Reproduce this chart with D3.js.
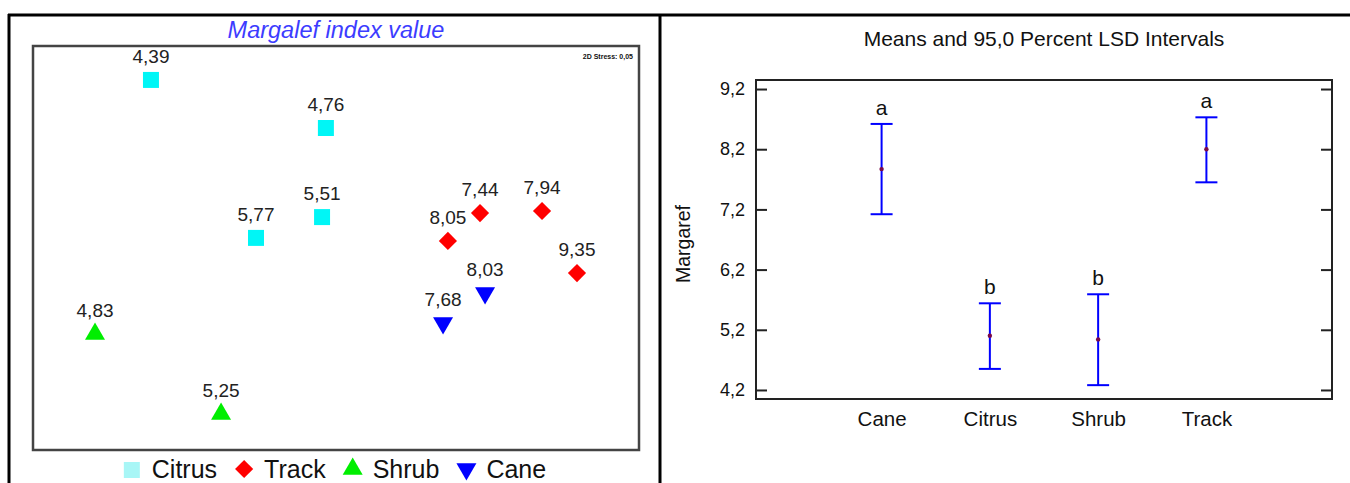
<!DOCTYPE html>
<html>
<head>
<meta charset="utf-8">
<script src="https://cdn.jsdelivr.net/npm/d3@7"></script>
<style>
  html, body { margin: 0; padding: 0; background: #fff; }
  svg { display: block; font-family: "Liberation Sans", Arial, sans-serif; }
</style>
</head>
<body>
<svg id="fig" width="1350" height="483"></svg>
<script>
// ---- NMDS ordination of sites (left panel) ----
const siteGroups = ['Citrus', 'Citrus', 'Citrus', 'Citrus', 'Track', 'Track', 'Track', 'Track', 'Cane', 'Cane', 'Shrub', 'Shrub'];
const margalefValues = [4.39, 4.76, 5.51, 5.77, 7.44, 7.94, 8.05, 9.35, 8.03, 7.68, 4.83, 5.25];
const nmdsAxis1 = [-0.916, -0.050, -0.069, -0.396, 0.713, 1.020, 0.554, 1.193, 0.738, 0.530, -1.193, -0.569];
const nmdsAxis2 = [0.832, 0.594, 0.153, 0.050, 0.173, 0.183, 0.035, -0.124, -0.223, -0.371, -0.426, -0.822];
const legendGroups = ['Citrus', 'Track', 'Shrub', 'Cane'];
const stressText = '2D Stress: 0,05';

// ---- Means and LSD intervals (right panel) ----
const lsdCategories = ['Cane', 'Citrus', 'Shrub', 'Track'];
const lsdMeans = [7.87, 5.10, 5.04, 8.20];
const lsdLower = [7.12, 4.55, 4.28, 7.65];
const lsdUpper = [8.62, 5.64, 5.79, 8.73];
const lsdLetters = ['a', 'b', 'b', 'a'];
const yTickValues = [4.2, 5.2, 6.2, 7.2, 8.2, 9.2];

const svg = d3.select('#fig');
const comma = v => d3.format('.1f')(v).replace('.', ',');
const comma2 = v => d3.format('.2f')(v).replace('.', ',');

// outer table rules
svg.append('rect').attr('width', 1350).attr('height', 483).attr('fill', '#fff');
const rules = svg.append('g').attr('stroke', '#000').attr('stroke-width', 3);
rules.append('line').attr('x1', 8).attr('x2', 1350).attr('y1', 15).attr('y2', 15);
rules.append('line').attr('x1', 9).attr('x2', 9).attr('y1', 14).attr('y2', 483);
rules.append('line').attr('x1', 660).attr('x2', 660).attr('y1', 14).attr('y2', 483);

// ================= left panel =================
const groupStyle = {
  Citrus: { type: d3.symbolSquare, size: 256, rot: 0, fill: '#00f6f6', legendFill: '#a8f6f6' },
  Track:  { type: d3.symbolSquare, size: 165, rot: 45, fill: '#ff0000', legendFill: '#ff0000' },
  Shrub:  { type: d3.symbolTriangle, size: 173, rot: 0, fill: '#00ee00', legendFill: '#00ee00' },
  Cane:   { type: d3.symbolTriangle, size: 173, rot: 180, fill: '#0000ff', legendFill: '#0000ff' }
};

const xN = d3.scaleLinear().domain([-1.5, 1.5]).range([33, 639]);
const yN = d3.scaleLinear().domain([-1, 1]).range([450, 46]);

svg.append('text')
  .attr('x', 336).attr('y', 38)
  .attr('text-anchor', 'middle')
  .attr('font-size', 23.5).attr('font-style', 'italic')
  .attr('fill', '#3c3cff')
  .text('Margalef index value');

svg.append('rect')
  .attr('x', 33).attr('y', 46).attr('width', 606).attr('height', 404)
  .attr('fill', 'none').attr('stroke', '#444').attr('stroke-width', 2.5);

svg.append('text')
  .attr('x', 633).attr('y', 59)
  .attr('text-anchor', 'end')
  .attr('font-size', 7).attr('font-weight', 'bold')
  .attr('fill', '#111')
  .text(stressText);

const sites = margalefValues.map((v, i) => ({ group: siteGroups[i], value: v, a1: nmdsAxis1[i], a2: nmdsAxis2[i] }));

const siteG = svg.append('g').selectAll('g').data(sites).join('g')
  .attr('transform', d => `translate(${xN(d.a1)},${yN(d.a2)})`);
siteG.append('path')
  .attr('d', d => d3.symbol(groupStyle[d.group].type, groupStyle[d.group].size)())
  .attr('transform', d => `rotate(${groupStyle[d.group].rot})`)
  .attr('fill', d => groupStyle[d.group].fill);
siteG.append('text')
  .attr('y', -17)
  .attr('text-anchor', 'middle')
  .attr('font-size', 19)
  .attr('fill', '#222')
  .text(d => comma2(d.value));

// legend laid out from measured text widths
const legend = svg.append('g');
let cursor = 0;
const items = [];
legendGroups.forEach(g => {
  const item = legend.append('g');
  const st = groupStyle[g];
  item.append('path')
    .attr('d', d3.symbol(st.type, st.size)())
    .attr('transform', `translate(0,${g === 'Citrus' ? 0 : -1}) rotate(${st.rot})`)
    .attr('fill', st.legendFill);
  const t = item.append('text')
    .attr('x', 20).attr('y', 8)
    .attr('font-size', 25).attr('fill', '#111')
    .text(g);
  items.push({ item, width: 20 + t.node().getComputedTextLength() });
});
items.forEach((it, i) => {
  it.item.attr('transform', `translate(${cursor},0)`);
  cursor += it.width + (i < items.length - 1 ? 27 : 0);
});
const legendStart = 335 - (cursor + 8) / 2 + 8;
legend.attr('transform', `translate(${legendStart},470)`);

// ================= right panel =================
const plot = { left: 756, right: 1332, top: 80, bottom: 399 };
const x = d3.scalePoint().domain(lsdCategories).range([plot.left, plot.right]).padding(1.16);
const y = d3.scaleLinear().domain([4.05, 9.35]).range([plot.bottom, plot.top]);

svg.append('text')
  .attr('x', 1044).attr('y', 46)
  .attr('text-anchor', 'middle')
  .attr('font-size', 21).attr('fill', '#111')
  .text('Means and 95,0 Percent LSD Intervals');

const yAxisL = svg.append('g')
  .attr('transform', `translate(${plot.left},0)`)
  .call(d3.axisLeft(y).tickValues(yTickValues).tickSize(-11).tickPadding(11).tickFormat(comma));
const yAxisR = svg.append('g')
  .attr('transform', `translate(${plot.right},0)`)
  .call(d3.axisRight(y).tickValues(yTickValues).tickSize(-11).tickFormat(''));
const xAxis = svg.append('g')
  .attr('transform', `translate(0,${plot.bottom})`)
  .call(d3.axisBottom(x).tickSize(0).tickPadding(12));

[yAxisL, yAxisR, xAxis].forEach(a => {
  a.select('.domain').remove();
  a.selectAll('line').attr('stroke', '#222').attr('stroke-width', 2);
  a.selectAll('text').attr('font-family', '"Liberation Sans", Arial, sans-serif').attr('fill', '#111');
});
yAxisL.selectAll('text').attr('font-size', 18);
xAxis.selectAll('text').attr('font-size', 20.5);

svg.append('rect')
  .attr('x', plot.left).attr('y', plot.top)
  .attr('width', plot.right - plot.left).attr('height', plot.bottom - plot.top)
  .attr('fill', 'none').attr('stroke', '#222').attr('stroke-width', 2);

svg.append('text')
  .attr('transform', `translate(690,244) rotate(-90)`)
  .attr('text-anchor', 'middle')
  .attr('font-size', 19.5).attr('fill', '#111')
  .text('Margaref');

const lsd = lsdCategories.map((c, i) => ({ cat: c, mean: lsdMeans[i], lo: lsdLower[i], hi: lsdUpper[i], letter: lsdLetters[i] }));
const bars = svg.append('g').selectAll('g').data(lsd).join('g')
  .attr('transform', d => `translate(${x(d.cat)},0)`);
bars.append('line')
  .attr('y1', d => y(d.lo)).attr('y2', d => y(d.hi))
  .attr('stroke', '#0000ff').attr('stroke-width', 2);
bars.append('line')
  .attr('x1', -11).attr('x2', 11)
  .attr('y1', d => y(d.hi)).attr('y2', d => y(d.hi))
  .attr('stroke', '#0000ff').attr('stroke-width', 2);
bars.append('line')
  .attr('x1', -11).attr('x2', 11)
  .attr('y1', d => y(d.lo)).attr('y2', d => y(d.lo))
  .attr('stroke', '#0000ff').attr('stroke-width', 2);
bars.append('circle')
  .attr('cy', d => y(d.mean)).attr('r', 2.2)
  .attr('fill', '#7a0a4a');
bars.append('text')
  .attr('y', d => y(d.hi) - 9)
  .attr('text-anchor', 'middle')
  .attr('font-size', 21).attr('fill', '#111')
  .text(d => d.letter);
</script>
</body>
</html>
